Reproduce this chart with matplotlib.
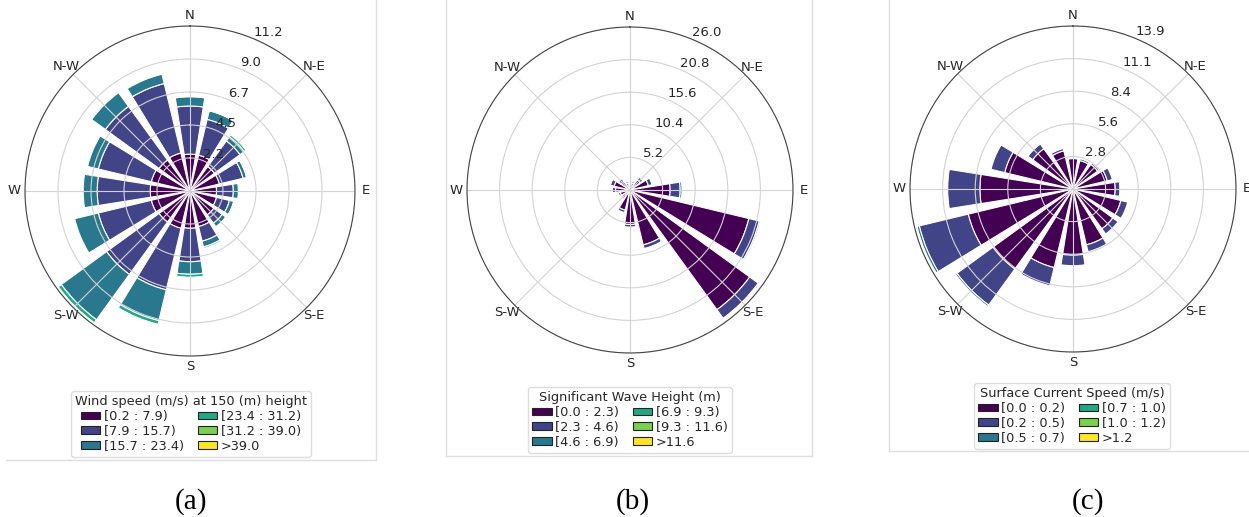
import numpy as np
import matplotlib
matplotlib.use("Agg")
import matplotlib.pyplot as plt
from matplotlib.patches import Patch
from matplotlib.lines import Line2D

W_PX, H_PX = 1249, 517

# 16 sectors, clockwise from north
directions = ["N", "NNE", "NE", "ENE", "E", "ESE", "SE", "SSE",
              "S", "SSW", "SW", "WSW", "W", "WNW", "NW", "NNW"]
compass_labels = ["N", "N-E", "E", "S-E", "S", "S-W", "W", "N-W"]

# (a) wind speed, frequency (%) per bin and sector
wind_title = "Wind speed (m/s) at 150 (m) height"
wind_bins = ["[0.2 : 7.9)", "[7.9 : 15.7)", "[15.7 : 23.4)",
             "[23.4 : 31.2)", "[31.2 : 39.0)", ">39.0"]
wind_b0 = [2.5, 2.5, 2.05, 2.05, 1.8, 1.85, 2.0, 2.48, 2.53, 2.6, 2.6, 2.7, 2.7, 2.7, 2.6, 2.65]
wind_b1 = [3.27, 2.5, 2.15, 1.65, 1.14, 0.9, 0.7, 1.02, 2.27, 4.3, 4.4, 3.7, 3.6, 3.7, 4.5, 4.85]
wind_b2 = [0.63, 0.6, 0.35, 0.25, 0.34, 0.3, 0.3, 0.4, 0.85, 2.15, 3.8, 1.65, 0.95, 0.75, 1.15, 0.65]
wind_b3 = [0.05, 0.03, 0.15, 0.05, 0.0, 0.03, 0.05, 0.1, 0.2, 0.25, 0.25, 0.0, 0.0, 0.0, 0.0, 0.0]
wind_b4 = [0.0] * 16
wind_b5 = [0.0] * 16
wind_rmax = 11.2
wind_rlabels = ["2.2", "4.5", "6.7", "9.0", "11.2"]

# (b) significant wave height
wave_title = "Significant Wave Height (m)"
wave_bins = ["[0.0 : 2.3)", "[2.3 : 4.6)", "[4.6 : 6.9)",
             "[6.9 : 9.3)", "[9.3 : 11.6)", ">11.6"]
wave_b0 = [0.8, 1.1, 2.0, 3.0, 6.4, 19.5, 23.6, 9.0, 5.5, 3.3, 1.5, 1.6, 2.3, 2.6, 1.7, 1.1]
wave_b1 = [0.3, 0.3, 0.5, 0.6, 1.6, 1.7, 1.7, 0.6, 0.4, 0.4, 0.3, 0.3, 0.5, 0.6, 0.5, 0.3]
wave_b2 = [0.0, 0.0, 0.0, 0.0, 0.3, 0.2, 0.1, 0.0, 0.0, 0.0, 0.0, 0.0, 0.0, 0.0, 0.0, 0.0]
wave_b3 = [0.0] * 16
wave_b4 = [0.0] * 16
wave_b5 = [0.0] * 16
wave_rmax = 26.0
wave_rlabels = ["5.2", "10.4", "15.6", "20.8", "26.0"]

# (c) surface current speed
curr_title = "Surface Current Speed (m/s)"
curr_bins = ["[0.0 : 0.2)", "[0.2 : 0.5)", "[0.5 : 0.7)",
             "[0.7 : 1.0)", "[1.0 : 1.2)", ">1.2"]
curr_b0 = [2.6, 2.5, 2.6, 3.0, 3.6, 4.2, 4.2, 4.9, 5.65, 6.9, 8.45, 9.2, 7.95, 6.0, 4.25, 3.35]
curr_b1 = [0.1, 0.15, 0.15, 0.45, 0.4, 0.6, 0.55, 0.6, 0.9, 1.6, 3.8, 4.3, 2.75, 1.2, 0.5, 0.2]
curr_b2 = [0.0, 0.0, 0.0, 0.0, 0.0, 0.0, 0.0, 0.0, 0.0, 0.0, 0.15, 0.2, 0.0, 0.0, 0.0, 0.0]
curr_b3 = [0.0] * 16
curr_b4 = [0.0] * 16
curr_b5 = [0.0] * 16
curr_rmax = 13.92
curr_rlabels = ["2.8", "5.6", "8.4", "11.1", "13.9"]

TEXT = "#262626"


def fx(px):
    return px / W_PX


def fy(py):
    return 1 - py / H_PX


def draw_rose(fig, cx, cy, rad, freq, rmax, rlabels, title, bin_labels, leg_x, leg_top):
    ax = fig.add_axes([fx(cx - rad), fy(cy + rad), 2 * rad / W_PX, 2 * rad / H_PX],
                      projection="polar")
    ax.set_theta_zero_location("N")
    ax.set_theta_direction(-1)

    n = len(directions)
    theta = np.deg2rad(np.arange(n) * 360.0 / n)
    width = np.deg2rad(360.0 / n) * 0.8
    colors = plt.cm.viridis(np.linspace(0, 1, len(bin_labels)))

    bottom = np.zeros(n)
    for vals, c in zip(freq, colors):
        vals = np.asarray(vals, dtype=float)
        m = vals > 0
        if m.any():
            ax.bar(theta[m], vals[m], width=width, bottom=bottom[m], color=c,
                   edgecolor="white", linewidth=0.8, zorder=1)
        bottom += vals

    ax.set_ylim(0, rmax)
    ax.set_rgrids(np.arange(1, 6) * rmax / 5, labels=rlabels, angle=22.5,
                  fontsize=9.5, color=TEXT)
    ax.set_thetagrids(np.arange(0, 360, 45), labels=compass_labels, fontsize=9.5, color=TEXT)
    ax.tick_params(axis="x", pad=-3)
    ax.grid(True, color="#d3d3d3", linewidth=0.8)
    ax.spines["polar"].set_color("#444444")
    ax.spines["polar"].set_linewidth(0.8)

    handles = [Patch(facecolor=c, edgecolor="#222222", linewidth=0.8) for c in colors]
    leg = fig.legend(handles, bin_labels, title=title, ncol=2, loc="upper center",
                     bbox_to_anchor=(fx(leg_x), fy(leg_top)), borderaxespad=0,
                     fontsize=9.3, title_fontsize=9.3,
                     handlelength=1.5, handleheight=0.5, handletextpad=0.25,
                     columnspacing=1.1, labelspacing=0.15, borderpad=0.3,
                     framealpha=1.0, edgecolor="#dddddd")
    for t in leg.get_texts():
        t.set_color(TEXT)
    leg.get_title().set_color(TEXT)
    return ax


fig = plt.figure(figsize=(W_PX / 100, H_PX / 100), dpi=100)

draw_rose(fig, 190, 191, 165,
          [wind_b0, wind_b1, wind_b2, wind_b3, wind_b4, wind_b5],
          wind_rmax, wind_rlabels, wind_title, wind_bins, 191, 391)
draw_rose(fig, 630, 190, 163,
          [wave_b0, wave_b1, wave_b2, wave_b3, wave_b4, wave_b5],
          wave_rmax, wave_rlabels, wave_title, wave_bins, 630, 387)
draw_rose(fig, 1073, 189, 163,
          [curr_b0, curr_b1, curr_b2, curr_b3, curr_b4, curr_b5],
          curr_rmax, curr_rlabels, curr_title, curr_bins, 1072, 383)

# panel frames (light gray)
frame_lines = [
    ((6, 376), (460, 460)), ((376, 376), (0, 460)),
    ((446, 812), (456, 456)), ((446, 446), (0, 456)), ((812, 812), (0, 456)),
    ((889, 1249), (451, 451)), ((889, 889), (0, 451)),
]
for xs, ys in frame_lines:
    fig.add_artist(Line2D([fx(x) for x in xs], [fy(y) for y in ys],
                          transform=fig.transFigure, color="#dedede", linewidth=1.0))

for label, x in [("(a)", 191), ("(b)", 633), ("(c)", 1088)]:
    fig.text(fx(x), fy(502), label, ha="center", va="center",
             fontfamily="Liberation Serif", fontsize=21, color="black")

fig.savefig("out.png", dpi=100)
